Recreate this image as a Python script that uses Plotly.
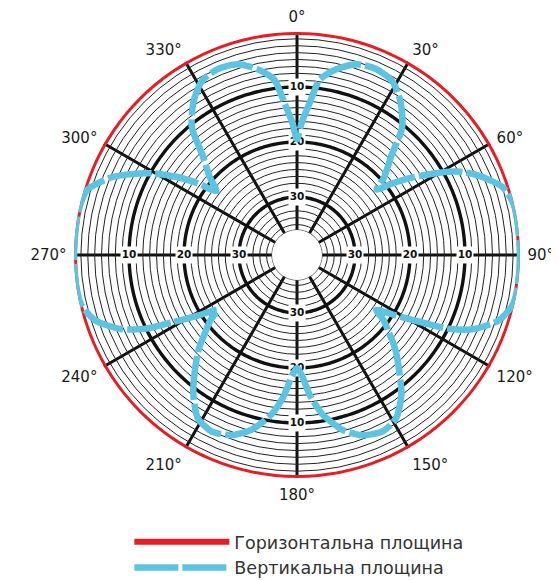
import numpy as np
import plotly.graph_objects as go

# ---------------- data ----------------
ANGLE_TICKS = [0, 30, 60, 90, 120, 150, 180, 210, 240, 270, 300, 330]
ANGLE_LABELS = ["0°", "30°", "60°", "90°", "120°", "150°", "180°",
                "210°", "240°", "270°", "300°", "330°"]
RING_LABELS = [10, 20, 30]
LABEL_SPOKES = [0, 90, 180, 270]

# horizontal plane: omnidirectional, 0 dB all around
HORIZ_DB = 0.0

# vertical plane pattern (attenuation, dB)
VERT_THETA = [0, 2, 4.8, 7.4, 12, 17.4, 23, 28.7, 34, 39.5, 43.3, 48.4, 50.5,
              53, 56, 60, 63, 66.4, 71.7, 76.6, 82, 90, 98, 103, 108, 113, 116,
              118.5, 121.5, 124.7, 127, 130, 133.5, 137.4, 143.3, 148.8, 154.2,
              160.1, 165.4, 170.9, 174.8, 177.7, 180,
              182.3, 185.2, 189.1, 194.6, 199.9, 205.8, 211.2, 216.7, 222.6,
              226.5, 230, 233, 235.3, 238.5, 241.5, 244, 247, 252, 257, 262,
              270, 278, 281.5, 287.2, 292.6, 296, 299.5, 303, 305.8, 308.5,
              311.6, 316.7, 320.5, 326, 331.3, 337, 342.6, 348, 352.6, 355.2,
              358, 360]
VERT_DB = [19.5, 16.5, 12.7, 8.4, 6.0, 4.2, 3.8, 4.5, 6.9, 10.5, 15.4, 19.4, 21.8,
           19.0, 15.4, 10.6, 7.2, 4.5, 1.2, 0.1, 0.0, 0.0, 0.0, 0.3, 2.0, 6.0, 10.0,
           15.0, 19.5, 23.0, 20.8, 18.8, 16.0, 13.3, 8.8, 5.8, 4.9,
           5.7, 7.7, 11.2, 15.0, 18.6, 20.0,
           18.6, 15.0, 11.2, 7.7, 5.7, 4.9, 5.8, 9.0, 13.3,
           16.0, 18.8, 20.8, 23.0, 19.5, 15.0, 10.0, 6.0, 2.0, 0.3, 0.0,
           0.0, 0.0, 0.0, 0.6, 3.9, 7.0, 10.4, 14.5, 18.2, 21.8,
           19.4, 15.4, 10.5, 6.9, 4.5, 3.8, 4.2, 6.0, 8.4, 12.7,
           16.5, 19.5]

SERIES_NAMES = ["Горизонтальна площина", "Вертикальна площина"]

# ---------------- style ----------------
RED = "#E51E25"
BLUE = "#5CC4E2"
INK = "#111111"
R_MAX = 36
circle_theta = np.arange(0, 360.5, 1.0)

fig = go.Figure()

# hole outline
fig.add_trace(go.Scatterpolar(
    r=[R_MAX] * len(circle_theta), theta=circle_theta, mode="lines",
    line=dict(color="#555555", width=1.2), hoverinfo="skip", showlegend=False,
    cliponaxis=False))

# thick rings at labelled levels
for lv in RING_LABELS:
    fig.add_trace(go.Scatterpolar(
        r=[lv] * len(circle_theta), theta=circle_theta, mode="lines",
        line=dict(color=INK, width=3.4), hoverinfo="skip", showlegend=False))

# white boxes + radial labels on the cardinal spokes
lab_r, lab_t, lab_s = [], [], []
for sp in LABEL_SPOKES:
    for lv in RING_LABELS:
        lab_r.append(lv)
        lab_t.append(sp)
        lab_s.append(str(lv))
fig.add_trace(go.Scatterpolar(
    r=lab_r, theta=lab_t, mode="markers+text", text=lab_s,
    marker=dict(symbol="square", size=17, color="white"),
    textfont=dict(family="DejaVu Sans", size=10.5, color=INK, weight="bold"),
    textposition="middle center", hoverinfo="skip", showlegend=False))

# horizontal plane (red)
fig.add_trace(go.Scatterpolar(
    r=[HORIZ_DB] * len(circle_theta), theta=circle_theta, mode="lines",
    name=SERIES_NAMES[0], line=dict(color=RED, width=6), cliponaxis=False))

# vertical plane (blue dashed)
fig.add_trace(go.Scatterpolar(
    r=VERT_DB, theta=VERT_THETA, mode="lines", name=SERIES_NAMES[1],
    line=dict(color=BLUE, width=6.5, dash="44px,4px", shape="spline", smoothing=0.7),
    cliponaxis=False))

grid_vals = list(np.arange(0, R_MAX - 0.5, 1.25))

fig.update_layout(
    width=559, height=580,
    paper_bgcolor="white", plot_bgcolor="white",
    margin=dict(l=0, r=0, t=0, b=0),
    font=dict(family="DejaVu Sans", color="#222222"),
    polar=dict(
        domain=dict(x=[0.1181, 0.9159], y=[0.1897, 0.9586]),
        hole=0.112,
        bgcolor="white",
        radialaxis=dict(range=[R_MAX, 0], tickvals=grid_vals, showticklabels=False,
                        ticks="", showline=False, gridcolor="#222222", gridwidth=1),
        angularaxis=dict(rotation=90, direction="clockwise", tickvals=ANGLE_TICKS,
                         ticktext=ANGLE_LABELS, ticks="outside", ticklen=4,
                         tickcolor="rgba(0,0,0,0)", showline=False,
                         gridcolor=INK, gridwidth=3,
                         tickfont=dict(family="DejaVu Sans", size=15, color="#1a1a1a")),
    ),
    showlegend=True,
    legend=dict(x=0.2171, y=0.1105, xanchor="left", yanchor="top",
                font=dict(family="DejaVu Sans", size=17.5, color="#333333"),
                itemwidth=95, bgcolor="rgba(0,0,0,0)", tracegroupgap=0),
)

fig.write_html("out.html")
